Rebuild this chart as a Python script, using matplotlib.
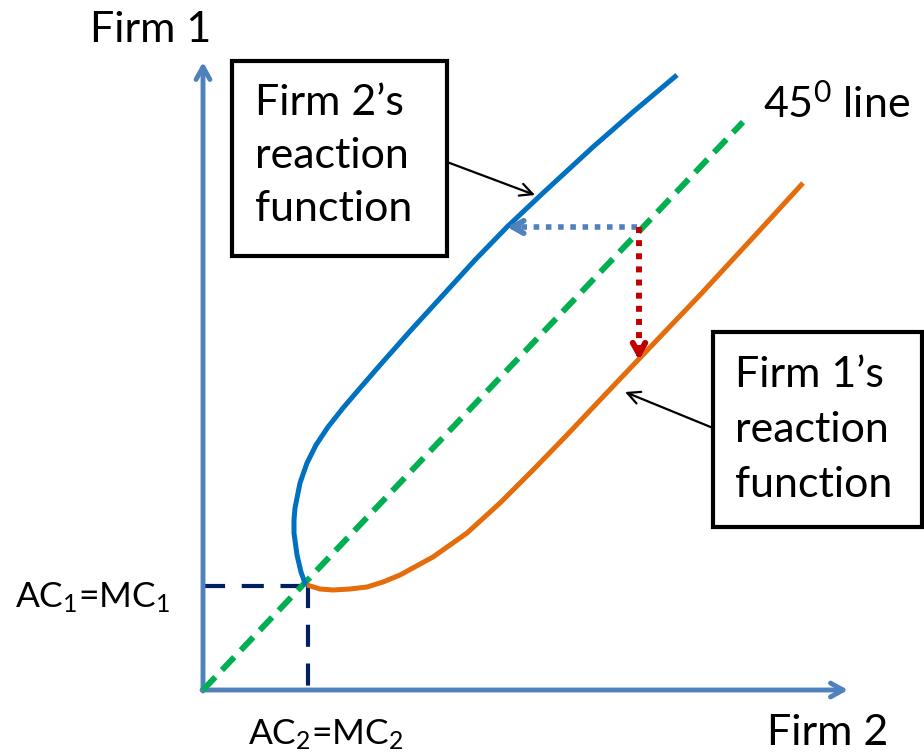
#!/usr/bin/env python3
"""Reaction functions of two firms with the 45 degree line."""

import matplotlib
matplotlib.use("Agg")
import matplotlib.pyplot as plt
from matplotlib.patches import Rectangle

plt.rcParams["font.family"] = ["Lato", "DejaVu Sans"]
plt.rcParams["mathtext.fontset"] = "custom"
plt.rcParams["mathtext.rm"] = "Lato"
plt.rcParams["mathtext.it"] = "Lato"

# data (units: output of firm 2 on x, firm 1 on y)
firm2_rf_x = [103, 98, 94, 91, 91, 92, 97, 104, 113, 125, 140, 158, 178,
              209, 241, 272, 304, 340, 390, 430, 474]
firm2_rf_y = [104, 118, 135, 157, 170, 182, 207, 227, 245, 263, 282, 303, 326,
              361, 396, 430, 463, 497, 543, 578, 615]
firm1_rf_x = [104, 117, 130, 147, 164, 180, 197, 230, 264, 297, 330, 364, 397,
              435, 497, 557, 600]
firm1_rf_y = [105, 101, 100, 101, 103, 108, 115, 133, 157, 187, 220, 255, 290,
              330, 395, 460, 507]
line45_x = [0, 540]
line45_y = [0, 568]
ac_x = 105          # AC2 = MC2
ac_y = 104          # AC1 = MC1
step_start = (434, 463)   # point on the 45 line
step_left_x = 304         # lands on firm 2's reaction function
step_down_y = 330         # lands on firm 1's reaction function
axis_x_end = 645
axis_y_end = 628

AXIS_C = "#4F81BD"
BLUE = "#0070C0"
ORANGE = "#E46C0A"
GREEN = "#00B050"
NAVY = "#002060"
RED = "#C00000"

fig = plt.figure(figsize=(9.24, 7.54), dpi=100)
ax = fig.add_axes([0, 0, 1, 1])
ax.set_xlim(-203, 721)
ax.set_ylim(-64, 690)
ax.axis("off")

# axes arrows
ax.annotate("", xy=(0, axis_y_end), xytext=(0, -1),
            arrowprops=dict(arrowstyle="->,head_length=0.9,head_width=0.5",
                            color=AXIS_C, lw=3.5, shrinkA=0, shrinkB=0))
ax.annotate("", xy=(axis_x_end, 0), xytext=(-1, 0),
            arrowprops=dict(arrowstyle="->,head_length=0.9,head_width=0.5",
                            color=AXIS_C, lw=3.5, shrinkA=0, shrinkB=0))

# AC = MC guides
ax.plot([0, ac_x], [ac_y, ac_y], color=NAVY, lw=3, ls=(0, (5.3, 4)), zorder=2)
ax.plot([ac_x, ac_x], [ac_y, 0], color=NAVY, lw=3, ls=(0, (5.3, 4)), zorder=2)

# 45 degree line and reaction functions
ax.plot(line45_x, line45_y, color=GREEN, lw=4.3, ls=(0, (3, 1.6)), zorder=3)
ax.plot(firm2_rf_x, firm2_rf_y, color=BLUE, lw=3.6, solid_capstyle="butt",
        solid_joinstyle="round", zorder=4)
ax.plot(firm1_rf_x, firm1_rf_y, color=ORANGE, lw=3.6, solid_capstyle="butt",
        solid_joinstyle="round", zorder=4)

# dotted adjustment arrows
sx, sy = step_start
ax.plot([sx, step_left_x + 8], [sy, sy], color=AXIS_C, lw=4, ls=(0, (1, 1.2)), zorder=5)
ax.annotate("", xy=(step_left_x, sy), xytext=(step_left_x + 12, sy),
            arrowprops=dict(arrowstyle="->,head_length=0.8,head_width=0.45",
                            color=AXIS_C, lw=4, shrinkA=0, shrinkB=0), zorder=5)
ax.plot([sx + 2, sx + 2], [sy, step_down_y + 8], color=RED, lw=4.3, ls=(0, (1, 1.2)), zorder=5)
ax.annotate("", xy=(sx + 2, step_down_y), xytext=(sx + 2, step_down_y + 12),
            arrowprops=dict(arrowstyle="->,head_length=0.8,head_width=0.45",
                            color=RED, lw=4.3, shrinkA=0, shrinkB=0), zorder=5)

# label boxes
ax.add_patch(Rectangle((29, 434), 215, 195, fill=False, ec="black", lw=3, zorder=6))
ax.add_patch(Rectangle((510, 163), 209, 195, fill=False, ec="black", lw=3, zorder=6))
ax.annotate("", xy=(332, 495), xytext=(244, 528),
            arrowprops=dict(arrowstyle="->,head_length=0.9,head_width=0.45",
                            color="black", lw=1.6, shrinkA=0, shrinkB=0))
ax.annotate("", xy=(422, 298), xytext=(510, 262),
            arrowprops=dict(arrowstyle="->,head_length=0.9,head_width=0.45",
                            color="black", lw=1.6, shrinkA=0, shrinkB=0))

FS = 31
for i, line in enumerate(["Firm 2\u2019s", "reaction", "function"]):
    ax.text(52, 575 - i * 53, line, fontsize=FS, va="baseline", ha="left")
for i, line in enumerate(["Firm 1\u2019s", "reaction", "function"]):
    ax.text(532, 303 - i * 55, line, fontsize=FS, va="baseline", ha="left")

ax.text(-113, 648, "Firm 1", fontsize=FS, va="baseline", ha="left")
ax.text(564, -55, "Firm 2", fontsize=FS, va="baseline", ha="left")
ax.text(560, 572, r"45$^\mathrm{0}$ line", fontsize=FS, va="baseline", ha="left")
ax.text(-188, 82, r"AC$_\mathrm{1}$=MC$_\mathrm{1}$", fontsize=25.5, va="baseline", ha="left")
ax.text(45, -55, r"AC$_\mathrm{2}$=MC$_\mathrm{2}$", fontsize=25.5, va="baseline", ha="left")

fig.savefig("out.png", dpi=100)
